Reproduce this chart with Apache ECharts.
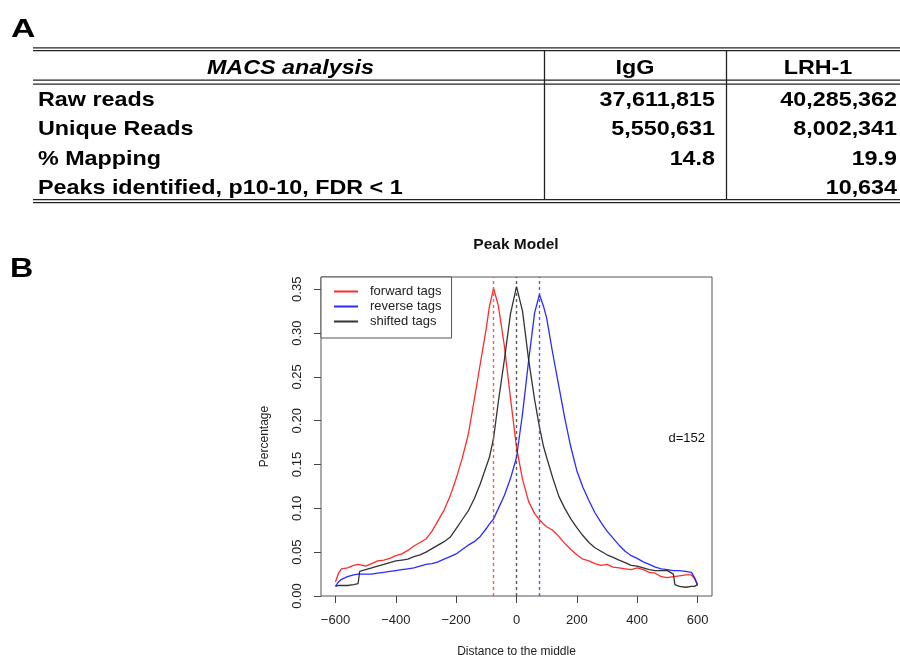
<!DOCTYPE html>
<html>
<head>
<meta charset="utf-8">
<script src="https://cdn.jsdelivr.net/npm/echarts@6.0.0/dist/echarts.min.js"></script>
<style>
html,body{margin:0;padding:0;background:#fff;}
#c{width:900px;height:655px;}
</style>
</head>
<body>
<div id="c"></div>
<script>
// ---- Table (panel A) ----
const tableHeader = ['MACS analysis', 'IgG', 'LRH-1'];
const rowLabels = ['Raw reads', 'Unique Reads', '% Mapping', 'Peaks identified, p10-10, FDR < 1'];
const iggValues = ['37,611,815', '5,550,631', '14.8', ''];
const lrh1Values = ['40,285,362', '8,002,341', '19.9', '10,634'];

// ---- Peak model (panel B) ----
const xs = [-600,-590,-580,-560,-540,-525,-520,-500,-480,-460,-440,-420,-400,-380,-360,-340,-320,-300,-280,-260,-240,-220,-200,-180,-160,-140,-120,-100,-90,-76,-60,-40,-20,0,20,40,60,76,90,100,120,140,160,180,200,220,240,260,280,300,320,340,360,380,400,420,440,460,480,500,520,525,540,560,580,590,600];
const forwardTags = [0.016,0.026,0.031,0.032,0.035,0.036,0.035,0.034,0.037,0.040,0.041,0.043,0.046,0.048,0.052,0.057,0.061,0.065,0.074,0.086,0.098,0.114,0.134,0.157,0.184,0.224,0.265,0.306,0.330,0.351,0.331,0.285,0.226,0.170,0.133,0.108,0.094,0.087,0.082,0.079,0.075,0.068,0.060,0.053,0.047,0.042,0.040,0.037,0.035,0.036,0.033,0.032,0.031,0.030,0.032,0.030,0.027,0.026,0.022,0.021,0.022,0.023,0.023,0.024,0.024,0.020,0.012];
const reverseTags = [0.011,0.016,0.019,0.022,0.024,0.025,0.025,0.025,0.025,0.026,0.027,0.028,0.029,0.030,0.031,0.032,0.034,0.036,0.037,0.039,0.042,0.045,0.048,0.053,0.058,0.062,0.068,0.077,0.082,0.088,0.100,0.115,0.134,0.158,0.208,0.268,0.323,0.344,0.330,0.317,0.277,0.240,0.203,0.170,0.143,0.124,0.109,0.095,0.084,0.074,0.066,0.058,0.051,0.046,0.043,0.039,0.036,0.033,0.031,0.030,0.029,0.029,0.029,0.028,0.027,0.021,0.013];
const shiftedTags = [0.011,0.012,0.012,0.012,0.013,0.014,0.028,0.030,0.032,0.034,0.036,0.038,0.040,0.041,0.042,0.045,0.047,0.050,0.054,0.058,0.062,0.067,0.077,0.087,0.097,0.111,0.128,0.148,0.158,0.180,0.222,0.270,0.322,0.353,0.325,0.270,0.224,0.193,0.170,0.158,0.135,0.114,0.100,0.088,0.078,0.069,0.061,0.055,0.051,0.047,0.044,0.041,0.038,0.035,0.034,0.032,0.030,0.029,0.029,0.029,0.025,0.013,0.011,0.010,0.011,0.011,0.013];
const seriesNames = ['forward tags', 'reverse tags', 'shifted tags'];
const peakShifts = [-76, 76, 0];
const xTicks = [-600, -400, -200, 0, 200, 400, 600];
const yTicks = [0, 0.05, 0.10, 0.15, 0.20, 0.25, 0.30, 0.35];
const dLabel = 'd=152';

const FONT = '"Liberation Sans", Arial, Helvetica, sans-serif';
const colors = ['rgba(255,20,20,0.9)', 'rgba(20,20,255,0.9)', 'rgba(30,30,30,0.9)'];
const dashColors = ['rgba(255,60,60,0.85)', 'rgba(60,60,255,0.85)', 'rgba(60,60,60,0.85)'];
const values = [forwardTags, reverseTags, shiftedTags];

function pairs(arr) { return xs.map((x, i) => [x, arr[i]]); }

// table graphics
const g = [];
const tL = 33, tR = 900, c1 = 544.5, c2 = 726.5;
const lineStyle = { stroke: '#222', lineWidth: 1.3 };
[47.8, 50.6, 80.2, 84.2, 199.6, 202.6].forEach(y => {
  g.push({ type: 'line', shape: { x1: tL, y1: y, x2: tR, y2: y }, style: lineStyle, silent: true });
});
[c1, c2].forEach(x => {
  g.push({ type: 'line', shape: { x1: x, y1: 50.6, x2: x, y2: 199.6 }, style: lineStyle, silent: true });
});
const tFont = (style) => style + ' bold 21px ' + FONT;
const SX = 1.11;
g.push({ type: 'text', x: 290.5, y: 68.5, scaleX: SX, style: { text: tableHeader[0], font: tFont('italic'), fill: '#000', align: 'center', verticalAlign: 'middle' } });
g.push({ type: 'text', x: 635, y: 68.5, scaleX: SX, style: { text: tableHeader[1], font: tFont('normal'), fill: '#000', align: 'center', verticalAlign: 'middle' } });
g.push({ type: 'text', x: 818, y: 68.5, scaleX: SX, style: { text: tableHeader[2], font: tFont('normal'), fill: '#000', align: 'center', verticalAlign: 'middle' } });
rowLabels.forEach((lab, i) => {
  const y = 100 + i * 29.5;
  g.push({ type: 'text', x: 38, y: y, scaleX: SX, style: { text: lab, font: tFont('normal'), fill: '#000', align: 'left', verticalAlign: 'middle' } });
  if (iggValues[i]) g.push({ type: 'text', x: 715, y: y, scaleX: SX, style: { text: iggValues[i], font: tFont('normal'), fill: '#000', align: 'right', verticalAlign: 'middle' } });
  if (lrh1Values[i]) g.push({ type: 'text', x: 897, y: y, scaleX: SX, style: { text: lrh1Values[i], font: tFont('normal'), fill: '#000', align: 'right', verticalAlign: 'middle' } });
});
// panel letters
g.push({ type: 'text', x: 11, y: 29.5, scaleX: 1.3, style: { text: 'A', font: 'bold 26px ' + FONT, fill: '#000', align: 'left', verticalAlign: 'middle' } });
g.push({ type: 'text', x: 10, y: 269, scaleX: 1.15, style: { text: 'B', font: 'bold 28px ' + FONT, fill: '#000', align: 'left', verticalAlign: 'middle' } });
// d label
g.push({ type: 'text', x: 705, y: 438, style: { text: dLabel, font: '13px ' + FONT, fill: '#111', align: 'right', verticalAlign: 'middle' } });
// plot title
g.push({ type: 'text', x: 516, y: 245, style: { text: 'Peak Model', font: 'bold 15.5px ' + FONT, fill: '#111', align: 'center', verticalAlign: 'middle' } });

const series = seriesNames.map((name, k) => ({
  name: name,
  type: 'line',
  data: pairs(values[k]),
  symbol: 'none',
  smooth: false,
  animation: false,
  lineStyle: { color: colors[k], width: 1.3 },
  itemStyle: { color: colors[k] },
  z: 3,
  markLine: {
    silent: true,
    symbol: 'none',
    animation: false,
    label: { show: false },
    lineStyle: { color: dashColors[k], type: [3, 3], width: 1.4 },
    data: [{ xAxis: peakShifts[k] }]
  }
}));

const option = {
  backgroundColor: '#fff',
  animation: false,
  textStyle: { fontFamily: FONT },
  grid: {
    left: 321, right: 188, top: 277, bottom: 59,
    outerBoundsMode: 'none', containLabel: false,
    show: true, borderColor: '#555', borderWidth: 1, backgroundColor: 'transparent'
  },
  legend: {
    left: 321, top: 277, orient: 'vertical',
    data: seriesNames,
    itemWidth: 24, itemHeight: 14, itemGap: 2,
    padding: [8, 10, 10, 12],
    borderColor: '#555', borderWidth: 1, backgroundColor: '#fff',
    borderRadius: 0,
    selectedMode: false,
    itemStyle: { opacity: 0 },
    textStyle: { fontFamily: FONT, fontSize: 13, color: '#222', padding: [0, 0, 0, 7] }
  },
  xAxis: {
    type: 'value', min: -648, max: 648,
    name: 'Distance to the middle', nameLocation: 'middle', nameGap: 50,
    nameTextStyle: { fontFamily: FONT, fontSize: 12, color: '#222' },
    axisLine: { show: false, onZero: false },
    splitLine: { show: false },
    axisTick: { show: true, customValues: xTicks, length: 7, lineStyle: { color: '#444' } },
    axisLabel: { customValues: xTicks, fontSize: 13, color: '#222', margin: 18, fontFamily: FONT,
      formatter: v => String(v).replace('-', '\u2212') }
  },
  yAxis: {
    type: 'value', min: 0, max: 0.364,
    name: 'Percentage', nameLocation: 'middle', nameGap: 50,
    nameTextStyle: { fontFamily: FONT, fontSize: 12, color: '#222' },
    axisLine: { show: false, onZero: false },
    splitLine: { show: false },
    axisTick: { show: true, customValues: yTicks, length: 7, lineStyle: { color: '#444' } },
    axisLabel: { customValues: yTicks, rotate: 90, fontSize: 13, color: '#222', margin: 17, fontFamily: FONT,
      formatter: v => v.toFixed(2) }
  },
  graphic: g,
  series: series
};

const chart = echarts.init(document.getElementById('c'), null, { renderer: 'canvas' });
chart.setOption(option);
</script>
</body>
</html>
